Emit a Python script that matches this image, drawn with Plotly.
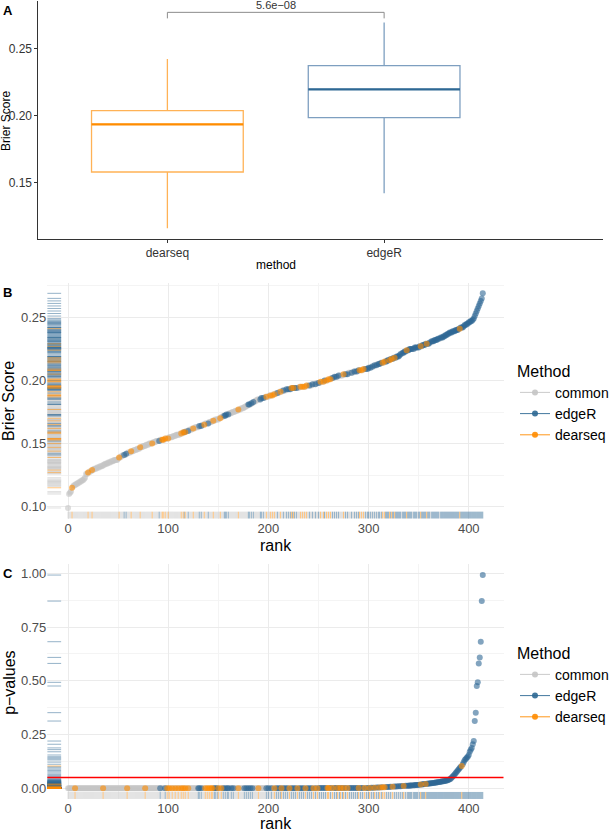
import plotly.graph_objects as go

# ---------------- Panel A : box statistics ----------------
methods_A = ["dearseq", "edgeR"]
lower_A = [0.1157, 0.1418]
q1_A = [0.1577, 0.1983]
median_A = [0.1933, 0.2194]
q3_A = [0.2035, 0.2371]
upper_A = [0.2420, 0.2694]
pvalue_label = "5.6e−08"
bracket_y = 0.2769
bracket_drop = 0.0045

# ---------------- Panel B : Brier score by rank ----------------
brier_sorted = [
    0.099, 0.110, 0.111, 0.112, 0.115, 0.116, 0.117, 0.117, 0.118, 0.118,
    0.119, 0.119, 0.120, 0.120, 0.121, 0.121, 0.122, 0.123, 0.126, 0.126,
    0.127, 0.127, 0.128, 0.128, 0.129, 0.129, 0.130, 0.130, 0.130, 0.131,
    0.131, 0.131, 0.132, 0.132, 0.132, 0.133, 0.133, 0.134, 0.134, 0.134,
    0.135, 0.135, 0.135, 0.136, 0.136, 0.136, 0.137, 0.137, 0.137, 0.137,
    0.138, 0.139, 0.139, 0.140, 0.140, 0.141, 0.141, 0.141, 0.142, 0.142,
    0.143, 0.143, 0.143, 0.144, 0.144, 0.144, 0.145, 0.145, 0.145, 0.146,
    0.146, 0.146, 0.147, 0.147, 0.147, 0.148, 0.148, 0.148, 0.149, 0.149,
    0.149, 0.150, 0.150, 0.150, 0.150, 0.151, 0.151, 0.151, 0.152, 0.152,
    0.152, 0.152, 0.153, 0.153, 0.153, 0.153, 0.153, 0.154, 0.154, 0.154,
    0.154, 0.155, 0.155, 0.155, 0.155, 0.156, 0.156, 0.156, 0.157, 0.157,
    0.157, 0.157, 0.158, 0.158, 0.158, 0.159, 0.159, 0.159, 0.160, 0.160,
    0.160, 0.161, 0.161, 0.161, 0.162, 0.162, 0.162, 0.163, 0.163, 0.163,
    0.163, 0.164, 0.164, 0.164, 0.165, 0.165, 0.165, 0.166, 0.166, 0.166,
    0.166, 0.167, 0.167, 0.167, 0.168, 0.168, 0.168, 0.169, 0.169, 0.169,
    0.169, 0.170, 0.170, 0.171, 0.171, 0.172, 0.172, 0.172, 0.173, 0.173,
    0.173, 0.174, 0.174, 0.174, 0.175, 0.175, 0.175, 0.176, 0.176, 0.176,
    0.177, 0.177, 0.177, 0.178, 0.178, 0.178, 0.179, 0.179, 0.180, 0.180,
    0.181, 0.181, 0.181, 0.182, 0.182, 0.183, 0.183, 0.184, 0.184, 0.185,
    0.185, 0.185, 0.185, 0.186, 0.186, 0.186, 0.186, 0.187, 0.187, 0.187,
    0.187, 0.188, 0.188, 0.188, 0.188, 0.189, 0.189, 0.189, 0.190, 0.190,
    0.190, 0.191, 0.191, 0.191, 0.192, 0.192, 0.192, 0.192, 0.193, 0.193,
    0.193, 0.193, 0.193, 0.194, 0.194, 0.194, 0.194, 0.194, 0.194, 0.194,
    0.194, 0.195, 0.195, 0.195, 0.195, 0.195, 0.195, 0.195, 0.196, 0.196,
    0.196, 0.196, 0.196, 0.196, 0.197, 0.197, 0.197, 0.197, 0.198, 0.198,
    0.198, 0.198, 0.199, 0.199, 0.199, 0.199, 0.200, 0.200, 0.200, 0.200,
    0.201, 0.201, 0.201, 0.202, 0.202, 0.202, 0.203, 0.203, 0.203, 0.203,
    0.204, 0.204, 0.204, 0.204, 0.204, 0.205, 0.205, 0.205, 0.205, 0.205,
    0.206, 0.206, 0.206, 0.206, 0.206, 0.207, 0.207, 0.207, 0.207, 0.207,
    0.208, 0.208, 0.208, 0.208, 0.208, 0.209, 0.209, 0.209, 0.209, 0.209,
    0.210, 0.210, 0.210, 0.211, 0.211, 0.211, 0.212, 0.212, 0.212, 0.213,
    0.213, 0.213, 0.214, 0.214, 0.214, 0.214, 0.215, 0.215, 0.215, 0.216,
    0.216, 0.216, 0.217, 0.217, 0.217, 0.218, 0.218, 0.218, 0.219, 0.219,
    0.219, 0.220, 0.221, 0.221, 0.222, 0.222, 0.223, 0.223, 0.224, 0.224,
    0.224, 0.225, 0.225, 0.225, 0.225, 0.225, 0.226, 0.226, 0.226, 0.226,
    0.226, 0.227, 0.227, 0.227, 0.228, 0.228, 0.228, 0.229, 0.229, 0.229,
    0.229, 0.230, 0.230, 0.231, 0.231, 0.231, 0.232, 0.232, 0.232, 0.233,
    0.233, 0.233, 0.234, 0.234, 0.234, 0.235, 0.235, 0.236, 0.236, 0.237,
    0.237, 0.238, 0.238, 0.238, 0.239, 0.239, 0.239, 0.240, 0.240, 0.240,
    0.241, 0.241, 0.242, 0.242, 0.242, 0.243, 0.244, 0.244, 0.245, 0.245,
    0.246, 0.246, 0.247, 0.247, 0.248, 0.249, 0.251, 0.253, 0.255, 0.257,
    0.259, 0.261, 0.263, 0.265, 0.269,
]
B_dearseq_ranks = [4, 20, 24, 51, 63, 72, 84, 94, 95, 97, 100, 113, 115, 117, 125, 136,
                   145, 152, 170, 198, 202, 204, 206, 212, 223, 225, 232, 234, 236, 238,
                   252, 255, 258, 260, 262, 275, 291, 293, 295, 314, 316, 321, 323, 326,
                   338, 352, 358, 391]
B_edgeR_ranks = [56, 58, 91, 116, 120, 131, 133, 140, 156, 157, 158, 160, 180, 181, 183,
                 185, 192, 193, 195, 209, 215, 218, 220, 222, 224, 226, 228, 241, 244, 247,
                 250, 256, 264, 266, 268, 270, 277, 279, 283, 286, 288, 290, 297, 299, 300,
                 302, 304, 306, 308, 310, 311, 313, 317, 318, 319, 320, 322, 324, 325, 327,
                 328, 329, 330, 331, 332, 334, 335, 336, 337, 339, 340, 341, 342, 343, 345,
                 346, 347, 348, 350, 351, 353, 354, 355, 356, 357, 359, 360, 361, 363, 364,
                 365, 366, 367, 368, 369, 370, 372, 373, 374, 375, 376, 377, 378, 379, 380,
                 381, 382, 383, 384, 385, 386, 387, 388, 389, 390, 392, 393, 394, 395, 396,
                 397, 398, 399, 400, 401, 402, 403, 404, 405, 406, 407, 408, 409, 410, 411,
                 412, 413, 414]

# ---------------- Panel C : p-values by rank ----------------
pval_sorted = [
    0.0000, 0.0000, 0.0000, 0.0000, 0.0000, 0.0000, 0.0000, 0.0000, 0.0000, 0.0000,
    0.0000, 0.0000, 0.0000, 0.0000, 0.0000, 0.0000, 0.0000, 0.0000, 0.0000, 0.0000,
    0.0000, 0.0000, 0.0000, 0.0000, 0.0000, 0.0000, 0.0000, 0.0000, 0.0000, 0.0000,
    0.0000, 0.0000, 0.0000, 0.0000, 0.0000, 0.0000, 0.0000, 0.0000, 0.0000, 0.0000,
    0.0000, 0.0000, 0.0000, 0.0000, 0.0000, 0.0000, 0.0000, 0.0000, 0.0000, 0.0000,
    0.0000, 0.0000, 0.0000, 0.0000, 0.0000, 0.0000, 0.0000, 0.0000, 0.0000, 0.0000,
    0.0000, 0.0000, 0.0000, 0.0000, 0.0000, 0.0000, 0.0000, 0.0000, 0.0000, 0.0000,
    0.0000, 0.0000, 0.0000, 0.0000, 0.0000, 0.0000, 0.0000, 0.0000, 0.0000, 0.0000,
    0.0000, 0.0000, 0.0000, 0.0000, 0.0000, 0.0000, 0.0000, 0.0000, 0.0000, 0.0000,
    0.0000, 0.0000, 0.0000, 0.0000, 0.0000, 0.0000, 0.0000, 0.0000, 0.0000, 0.0000,
    0.0001, 0.0001, 0.0001, 0.0001, 0.0001, 0.0001, 0.0001, 0.0001, 0.0001, 0.0001,
    0.0001, 0.0001, 0.0001, 0.0001, 0.0001, 0.0001, 0.0001, 0.0001, 0.0001, 0.0001,
    0.0001, 0.0001, 0.0001, 0.0001, 0.0001, 0.0001, 0.0001, 0.0001, 0.0001, 0.0001,
    0.0001, 0.0001, 0.0001, 0.0001, 0.0001, 0.0001, 0.0001, 0.0001, 0.0001, 0.0001,
    0.0001, 0.0001, 0.0001, 0.0001, 0.0001, 0.0001, 0.0001, 0.0001, 0.0001, 0.0001,
    0.0002, 0.0002, 0.0002, 0.0002, 0.0002, 0.0002, 0.0002, 0.0002, 0.0002, 0.0002,
    0.0002, 0.0002, 0.0002, 0.0002, 0.0002, 0.0002, 0.0002, 0.0002, 0.0002, 0.0002,
    0.0003, 0.0003, 0.0003, 0.0003, 0.0003, 0.0003, 0.0003, 0.0003, 0.0003, 0.0003,
    0.0003, 0.0003, 0.0003, 0.0003, 0.0003, 0.0003, 0.0003, 0.0003, 0.0003, 0.0003,
    0.0004, 0.0004, 0.0004, 0.0004, 0.0004, 0.0004, 0.0004, 0.0004, 0.0004, 0.0004,
    0.0005, 0.0005, 0.0005, 0.0005, 0.0005, 0.0005, 0.0005, 0.0005, 0.0005, 0.0005,
    0.0006, 0.0006, 0.0006, 0.0006, 0.0006, 0.0006, 0.0006, 0.0006, 0.0006, 0.0006,
    0.0007, 0.0007, 0.0007, 0.0007, 0.0007, 0.0007, 0.0007, 0.0007, 0.0007, 0.0007,
    0.0008, 0.0008, 0.0008, 0.0008, 0.0008, 0.0008, 0.0008, 0.0008, 0.0008, 0.0008,
    0.0009, 0.0009, 0.0009, 0.0009, 0.0009, 0.0009, 0.0009, 0.0009, 0.0009, 0.0009,
    0.0010, 0.0010, 0.0010, 0.0010, 0.0010, 0.0010, 0.0010, 0.0010, 0.0010, 0.0010,
    0.0012, 0.0012, 0.0012, 0.0012, 0.0012, 0.0012, 0.0012, 0.0012, 0.0012, 0.0012,
    0.0014, 0.0014, 0.0014, 0.0014, 0.0014, 0.0014, 0.0014, 0.0014, 0.0014, 0.0014,
    0.0016, 0.0016, 0.0016, 0.0016, 0.0016, 0.0016, 0.0016, 0.0016, 0.0016, 0.0016,
    0.0018, 0.0018, 0.0018, 0.0018, 0.0018, 0.0018, 0.0018, 0.0018, 0.0018, 0.0018,
    0.0020, 0.0021, 0.0023, 0.0025, 0.0027, 0.0029, 0.0031, 0.0033, 0.0035, 0.0037,
    0.0039, 0.0041, 0.0043, 0.0045, 0.0048, 0.0051, 0.0054, 0.0057, 0.0060, 0.0063,
    0.0066, 0.0069, 0.0072, 0.0075, 0.0078, 0.0081, 0.0084, 0.0087, 0.0090, 0.0093,
    0.0096, 0.0099, 0.0102, 0.0105, 0.0108, 0.0111, 0.0114, 0.0117, 0.0120, 0.0123,
    0.0126, 0.0129, 0.0132, 0.0135, 0.0138, 0.0141, 0.0145, 0.0150, 0.0155, 0.0160,
    0.0165, 0.0170, 0.0175, 0.0180, 0.0186, 0.0192, 0.0198, 0.0204, 0.0210, 0.0216,
    0.0222, 0.0228, 0.0234, 0.0240, 0.0247, 0.0254, 0.0261, 0.0268, 0.0275, 0.0283,
    0.0291, 0.0299, 0.0307, 0.0316, 0.0325, 0.0335, 0.0345, 0.0356, 0.0368, 0.0381,
    0.0400, 0.0420, 0.0450, 0.0500, 0.0550, 0.0600, 0.0650, 0.0710, 0.0770, 0.0830,
    0.0890, 0.0950, 0.1000, 0.1040, 0.1120, 0.1220, 0.1320, 0.1370, 0.1420, 0.1470,
    0.1550, 0.1700, 0.1800, 0.1880, 0.2050, 0.2200, 0.3130, 0.3520, 0.4760, 0.4930,
    0.5810, 0.6090, 0.6820, 0.8710, 0.9920,
]
C_dearseq_ranks = [7, 35, 59, 77, 99, 101, 104, 107, 110, 113, 115, 117, 120, 137, 139,
                   141, 143, 144, 150, 153, 170, 190, 206, 213, 221, 229, 237, 245, 249,
                   259, 260, 264, 269, 272, 275, 279, 290, 296, 301, 306, 311, 314, 316,
                   324, 335, 352, 357, 393]
C_edgeR_ranks = [92, 97, 130, 131, 133, 146, 147, 149, 155, 157, 159, 160, 163, 165, 176,
                 178, 180, 182, 184, 198, 200, 203, 208, 210, 212, 215, 217, 219, 223, 225,
                 227, 231, 233, 235, 239, 241, 243, 247, 251, 253, 255, 257, 262, 266, 268,
                 271, 274, 277, 281, 283, 285, 287, 289, 292, 294, 298, 300, 303, 305, 308,
                 310, 313, 318, 320, 322, 326, 328, 330, 332, 334, 337, 339, 340, 341, 342,
                 343, 345, 346, 347, 348, 349, 351, 353, 354, 355, 356, 358, 359, 360, 361,
                 362, 363, 364, 365, 366, 367, 368, 369, 370, 371, 372, 373, 374, 375, 376,
                 377, 378, 379, 380, 381, 382, 383, 384, 385, 386, 387, 388, 389, 390, 391,
                 392, 394, 395, 396, 397, 398, 399, 400, 401, 402, 403, 404, 405, 406, 407,
                 408, 409, 410, 411, 412, 413, 414]
pval_threshold = 0.05

method_order = ["common", "edgeR", "dearseq"]
COLORS = {"common": (196, 196, 196), "edgeR": (46, 104, 148), "dearseq": (255, 140, 0)}
BOX_LINE = {"dearseq": "#FFB256", "edgeR": "#7E9FC0"}
MEDIAN_LINE = {"dearseq": "#FF8C00", "edgeR": "#2E6894"}
FONT = "Liberation Sans, Arial, Helvetica, sans-serif"

W, H = 614, 832


def rgba(m, a):
    r, g, b = COLORS[m]
    return f"rgba({r},{g},{b},{a})"


def labels_for(n, edger, dearseq):
    lab = ["common"] * n
    for r in edger:
        if r < n:
            lab[r] = "edgeR"
    for r in dearseq:
        if r < n:
            lab[r] = "dearseq"
    return lab


def px_x(p):
    return p / W


def px_y(p):
    return 1 - p / H


fig = go.Figure()

# ---------------- Panel A ----------------
for i, m in enumerate(methods_A):
    pos = i + 1
    fig.add_trace(go.Box(
        x=[pos], q1=[q1_A[i]], median=[median_A[i]], q3=[q3_A[i]],
        lowerfence=[lower_A[i]], upperfence=[upper_A[i]],
        width=0.7, whiskerwidth=0, boxpoints=False,
        line=dict(color=BOX_LINE[m], width=1.3), fillcolor="rgba(0,0,0,0)",
        xaxis="x", yaxis="y", showlegend=False, hoverinfo="skip"))
    fig.add_trace(go.Scatter(
        x=[pos - 0.35, pos + 0.35], y=[median_A[i], median_A[i]], mode="lines",
        line=dict(color=MEDIAN_LINE[m], width=2.2),
        xaxis="x", yaxis="y", showlegend=False, hoverinfo="skip"))

# significance bracket
fig.add_trace(go.Scatter(
    x=[1, 1, 2, 2],
    y=[bracket_y - bracket_drop, bracket_y, bracket_y, bracket_y - bracket_drop],
    mode="lines", line=dict(color="#8C8C8C", width=1),
    xaxis="x", yaxis="y", showlegend=False, hoverinfo="skip"))

# ---------------- Panels B and C ----------------
XR = [-20.7, 434.7]
YR_B = [0.0905, 0.2775]
YR_C = [-0.0496, 1.0416]


def scatter_panel(values, labels, xa, ya, yr, legend_name):
    n = len(values)
    rug_x = XR[0] + 0.015 * (XR[1] - XR[0])
    rug_y = yr[0] + 0.015 * (yr[1] - yr[0])
    for m in method_order:
        idx = [i for i in range(n) if labels[i] == m]
        vals = [values[i] for i in idx]
        fig.add_trace(go.Scatter(
            x=[rug_x] * len(vals), y=vals, mode="markers",
            marker=dict(symbol="line-ew", size=10, line=dict(width=1, color=rgba(m, 0.5))),
            xaxis=xa, yaxis=ya, showlegend=False, hoverinfo="skip"))
        fig.add_trace(go.Scatter(
            x=idx, y=[rug_y] * len(idx), mode="markers",
            marker=dict(symbol="line-ns", size=5, line=dict(width=1, color=rgba(m, 0.5))),
            xaxis=xa, yaxis=ya, showlegend=False, hoverinfo="skip"))
    for m in method_order:
        idx = [i for i in range(n) if labels[i] == m]
        vals = [values[i] for i in idx]
        fig.add_trace(go.Scatter(
            x=idx, y=vals, mode="markers",
            marker=dict(size=6, color=rgba(m, 0.6), line=dict(width=0)),
            xaxis=xa, yaxis=ya, showlegend=False, name=m))
    for m in method_order:
        fig.add_trace(go.Scatter(
            x=[None], y=[None], mode="lines+markers", name=m,
            marker=dict(size=6, color=rgba(m, 0.9)), line=dict(color=rgba(m, 0.9), width=1),
            xaxis=xa, yaxis=ya, showlegend=True, legend=legend_name))


labels_B = labels_for(len(brier_sorted), B_edgeR_ranks, B_dearseq_ranks)
labels_C = labels_for(len(pval_sorted), C_edgeR_ranks, C_dearseq_ranks)
scatter_panel(brier_sorted, labels_B, "x2", "y2", YR_B, "legend")
scatter_panel(pval_sorted, labels_C, "x3", "y3", YR_C, "legend2")

# ---------------- Layout ----------------
tick_grey = "#4D4D4D"
grid_major = "#EBEBEB"
grid_minor = "#F4F4F4"

common_min = dict(showline=False, zeroline=False, ticks="", automargin=False,
                  gridcolor=grid_major, gridwidth=1,
                  tickfont=dict(size=13, color=tick_grey, family=FONT))

fig.update_layout(
    width=W, height=H, margin=dict(l=0, r=0, t=0, b=0),
    paper_bgcolor="white", plot_bgcolor="rgba(0,0,0,0)",
    font=dict(family=FONT, color="black"),
    xaxis=dict(domain=[px_x(39), px_x(612)], range=[0.405, 3.01],
               tickvals=[1, 2], ticktext=methods_A, showline=True, linecolor="#333333",
               linewidth=1, ticks="outside", ticklen=3, tickcolor="#333333",
               showgrid=False, zeroline=False, automargin=False,
               tickfont=dict(size=12, color="#333333", family=FONT)),
    yaxis=dict(domain=[px_y(239), px_y(0.7)], range=[0.1077, 0.2856],
               tickvals=[0.15, 0.20, 0.25], tickformat=".2f", showline=True,
               linecolor="#333333", linewidth=1, ticks="outside", ticklen=3,
               tickcolor="#333333", showgrid=False, zeroline=False, automargin=False,
               tickfont=dict(size=12, color="#333333", family=FONT)),
    xaxis2=dict(domain=[px_x(48), px_x(511)], range=XR, anchor="y2",
                tickvals=[0, 100, 200, 300, 400],
                minor=dict(tickvals=[50, 150, 250, 350], showgrid=True,
                           gridcolor=grid_minor, gridwidth=1), **common_min),
    yaxis2=dict(domain=[px_y(518.7), px_y(282.6)], range=YR_B, anchor="x2",
                tickvals=[0.10, 0.15, 0.20, 0.25], tickformat=".2f",
                minor=dict(tickvals=[0.125, 0.175, 0.225, 0.275], showgrid=True,
                           gridcolor=grid_minor, gridwidth=1), **common_min),
    xaxis3=dict(domain=[px_x(48), px_x(511)], range=XR, anchor="y3",
                tickvals=[0, 100, 200, 300, 400],
                minor=dict(tickvals=[50, 150, 250, 350], showgrid=True,
                           gridcolor=grid_minor, gridwidth=1), **common_min),
    yaxis3=dict(domain=[px_y(799), px_y(564.4)], range=YR_C, anchor="x3",
                tickvals=[0, 0.25, 0.5, 0.75, 1.0], tickformat=".2f",
                minor=dict(tickvals=[0.125, 0.375, 0.625, 0.875], showgrid=True,
                           gridcolor=grid_minor, gridwidth=1), **common_min),
    legend=dict(x=px_x(523), y=px_y(356), xanchor="left", yanchor="top",
                title=dict(text="Method", font=dict(size=16, family=FONT)),
                font=dict(size=14, family=FONT), bgcolor="rgba(0,0,0,0)",
                itemwidth=30, tracegroupgap=0),
    legend2=dict(x=px_x(523), y=px_y(638), xanchor="left", yanchor="top",
                 title=dict(text="Method", font=dict(size=16, family=FONT)),
                 font=dict(size=14, family=FONT), bgcolor="rgba(0,0,0,0)",
                 itemwidth=30, tracegroupgap=0),
    shapes=[dict(type="line", xref="x3 domain", yref="y3", x0=0, x1=1,
                 y0=pval_threshold, y1=pval_threshold, layer="above",
                 line=dict(color="#FF0000", width=1.5))],
)

ann = [
    dict(text="<b>A</b>", x=px_x(1), y=px_y(1), xanchor="left", yanchor="top", size=13),
    dict(text="<b>B</b>", x=px_x(1), y=px_y(283), xanchor="left", yanchor="top", size=13),
    dict(text="<b>C</b>", x=px_x(1), y=px_y(564), xanchor="left", yanchor="top", size=13),
    dict(text="Brier Score", x=px_x(6), y=px_y(121), xanchor="center", yanchor="middle",
         size=12, angle=-90),
    dict(text="method", x=px_x(280), y=px_y(265), xanchor="center", yanchor="middle", size=12),
    dict(text="Brier Score", x=px_x(8), y=px_y(401), xanchor="center", yanchor="middle",
         size=16, angle=-90),
    dict(text="rank", x=px_x(280), y=px_y(545), xanchor="center", yanchor="middle", size=16),
    dict(text="p−values", x=px_x(9), y=px_y(682), xanchor="center", yanchor="middle",
         size=16, angle=-90),
    dict(text="rank", x=px_x(280), y=px_y(823), xanchor="center", yanchor="middle", size=16),
]
for a in ann:
    fig.add_annotation(text=a["text"], x=a["x"], y=a["y"], xref="paper", yref="paper",
                       xanchor=a["xanchor"], yanchor=a["yanchor"], showarrow=False,
                       textangle=a.get("angle", 0),
                       font=dict(size=a["size"], family=FONT, color="black"))

fig.add_annotation(text=pvalue_label, x=1.5, y=bracket_y, xref="x", yref="y",
                   yanchor="bottom", showarrow=False, yshift=-1,
                   font=dict(size=11, family=FONT, color="#333333"))

fig.write_html("out.html", config={"displayModeBar": False},
               post_script="document.body.style.margin='0';")
